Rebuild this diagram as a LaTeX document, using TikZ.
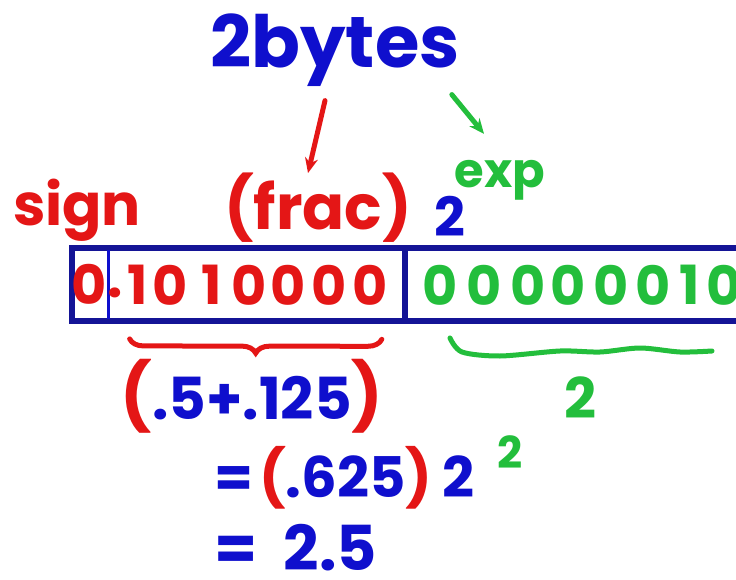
\documentclass[tikz,border=0pt]{standalone}
\usepackage{fontspec}
\setmainfont{Poppins}
\usetikzlibrary{arrows.meta,positioning,decorations.pathreplacing}
\definecolor{inkblue}{RGB}{15,15,205}
\definecolor{inkred}{RGB}{228,22,22}
\definecolor{inkgreen}{RGB}{35,190,60}
\definecolor{boxblue}{RGB}{20,20,150}

\begin{document}
\begin{tikzpicture}[
    x=1pt, y=-1pt,
    >={Stealth[length=15pt,width=13pt]},
    hand/.style={font=\fontsize{#1}{#1}\selectfont\bfseries, inner sep=0pt},
    hand/.default=54,
    blueink/.style={hand, text=inkblue},
    redink/.style={hand, text=inkred},
    greenink/.style={hand, text=inkgreen},
    boxline/.style={draw=boxblue, line width=5.5pt},
    pen/.style={line width=5pt, line cap=round},
]
\useasboundingbox (0,0) rectangle (736,580);
\clip (0,0) rectangle (736,580);

% labels above the register
\node[blueink, hand=72] (bytes) at (335,50) {2bytes};
\node[redink, hand=58] (sign) at (77,210) {sign};
\node[redink, hand=62] (frac) at (318,208) {(frac)};
\node[blueink, hand=54] (base) at (450,216) {2};
\node[greenink, hand=48] (exp) at (500,180) {exp};

\draw[->, pen, draw=inkred] ([xshift=-10pt,yshift=-14pt]bytes.south) -- ([xshift=-10pt,yshift=0pt]frac.north);
\draw[->, pen, draw=inkgreen] ([xshift=-8pt,yshift=-8pt]bytes.south east) -- ([xshift=-16pt,yshift=26pt]exp.north);

% the register
\draw[boxline] (72,248) rectangle (760,321);
\draw[boxline] (405,248) -- (405,321);
\draw[draw=inkblue, line width=3pt] (108,250) -- (108,319);

\node[redink, hand=54] (s0) at (89,284) {0};
\node[redink, hand=54] (pt) at (115,293) {.};
\foreach \x/\d [count=\i] in {138/1,170/0,212/1,249/0,288/0,329/0,370/0}
    \node[redink, hand=54] (f\i) at (\x,285) {\d};
\foreach \x/\d [count=\i] in {440/0,484/0,528/0,568/0,611/0,653/0,690/1,724/0}
    \node[greenink, hand=54] (e\i) at (\x,285) {\d};

% fraction value
\draw[pen, draw=inkred, decorate, decoration={brace, amplitude=14pt}]
    ([xshift=-6pt,yshift=-34pt]f7.south east) -- ([xshift=2pt,yshift=-34pt]f1.south west);
\node[blueink, hand=58] (sum) at (252,396)
    {\textcolor{inkred}{\fontsize{66}{66}\selectfont(}.5+.125\textcolor{inkred}{\fontsize{66}{66}\selectfont)}};

% exponent value
\draw[pen, draw=inkgreen] plot[smooth] coordinates
    {(450,338) (462,352) (500,356) (560,351) (600,352) (640,348) (680,352) (712,351)};
\node[greenink, hand=56] (expval) at (580,398) {2};

% result
\node[blueink, hand=56, anchor=west] (prod) at (214,478)
    {=\hspace{6pt}\textcolor{inkred}{(}.625\textcolor{inkred}{)}\hspace{10pt}2};
\node[greenink, hand=44] (sq) at (510,452) {2};
\node[blueink, hand=62, anchor=west] (res) at (214,548) {=\ \ 2.5};

\end{tikzpicture}
\end{document}
